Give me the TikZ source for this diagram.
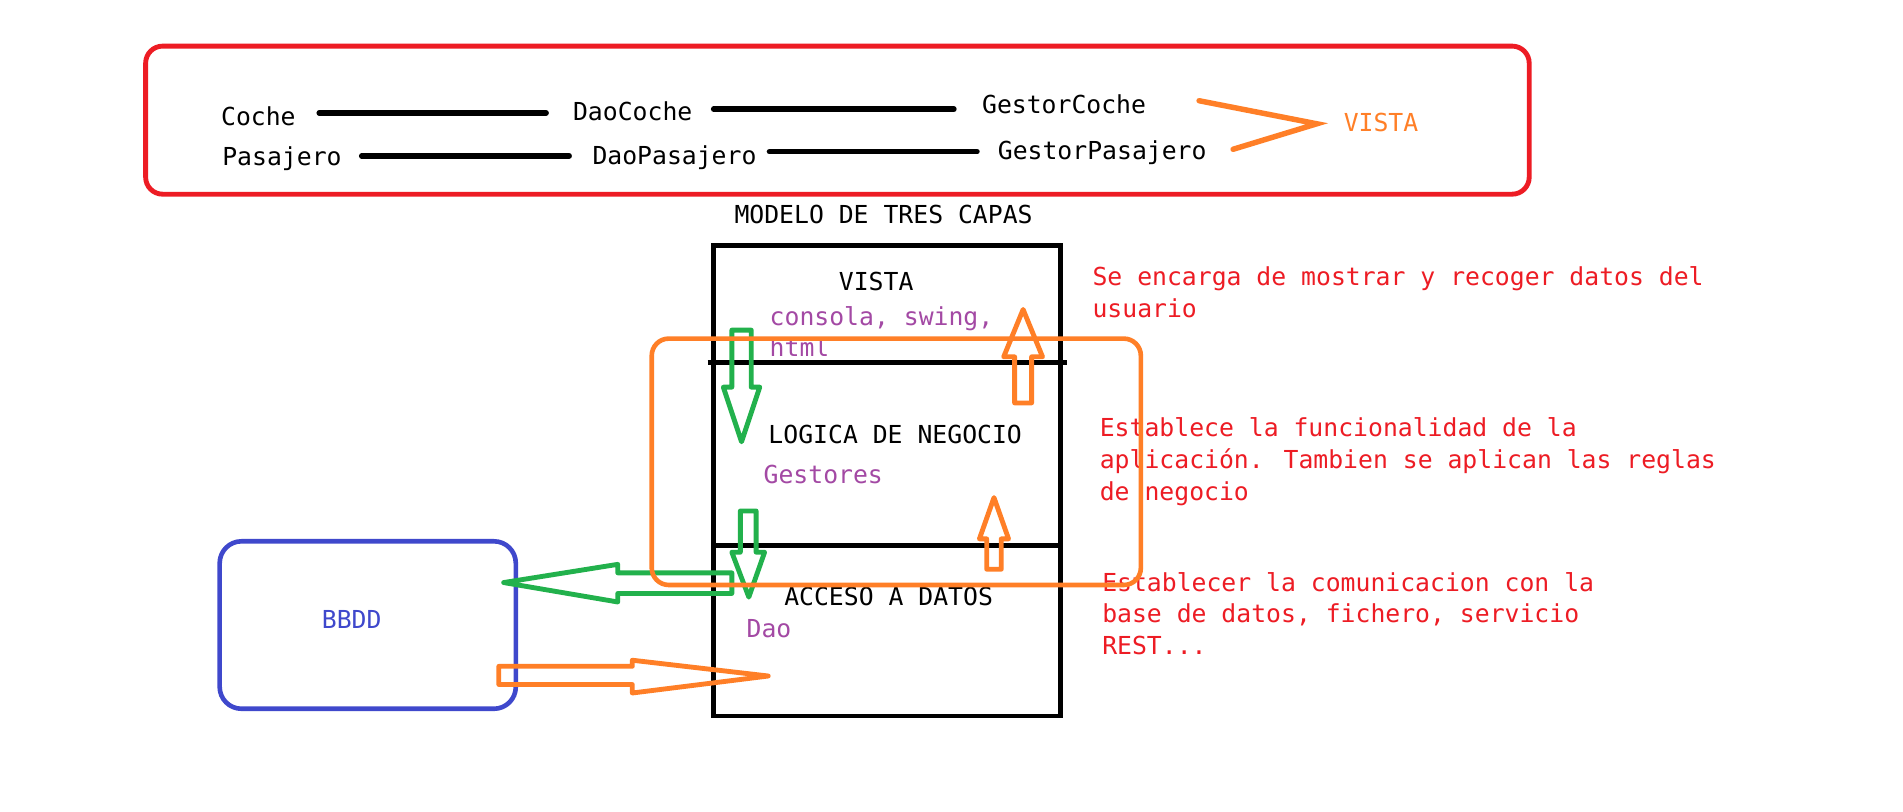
\documentclass[tikz,border=0pt]{standalone}
\usepackage{fontspec}
\newfontfamily\cons{DejaVu Sans Mono}
\definecolor{cred}{RGB}{237,28,36}
\definecolor{corange}{RGB}{255,127,39}
\definecolor{cgreen}{RGB}{34,177,76}
\definecolor{cblue}{RGB}{63,72,204}
\definecolor{cpurple}{RGB}{163,73,164}
\begin{document}
\begin{tikzpicture}[x=1pt,y=-1pt,
  txt/.style={inner sep=0pt, anchor=base west, font=\cons\fontsize{20.4}{26}\selectfont},
  redtxt/.style={txt, text=cred},
  purptxt/.style={txt, text=cpurple},
  link/.style={line width=4.5pt, line cap=round, black},
  greenarrow/.style={draw=cgreen, line width=4pt, line join=round},
  orangearrow/.style={draw=corange, line width=4pt, line join=round},
  framebox/.style={line width=4pt}]
\useasboundingbox (0,0) rectangle (1568,669);
\fill[white] (0,0) rectangle (1568,669);

% top red box
\draw[cred, framebox, rounded corners=14pt] (120,38) rectangle (1260,160);
\node[txt] (coche) at (182,103.5) {Coche};
\node[txt] (daocoche) at (472,99.5) {DaoCoche};
\node[txt] (gcoche) at (809,93.5) {GestorCoche};
\node[txt] (pasajero) at (183,136.5) {Pasajero};
\node[txt] (daopas) at (488,135.5) {DaoPasajero};
\node[txt] (gpas) at (822,131.5) {GestorPasajero};
\node[txt, text=corange] (vistatop) at (1107,108.5) {VISTA};

\coordinate (l1a) at (263,93);   \coordinate (l1b) at (450,93);
\coordinate (l2a) at (588,90);   \coordinate (l2b) at (786,90);
\coordinate (l3a) at (298,128.5);\coordinate (l3b) at (469,128.5);
\coordinate (l4a) at (634,125);  \coordinate (l4b) at (805,125);
\draw[link] (l1a) -- (l1b);
\draw[link] (l2a) -- (l2b);
\draw[link] (l3a) -- (l3b);
\draw[link] (l4a) -- (l4b);

\coordinate (cv1) at (988,83);
\coordinate (cv2) at (1085,102);
\coordinate (cv3) at (1016,123);
\draw[corange, line width=4.5pt, line cap=round, line join=miter] (cv1) -- (cv2) -- (cv3);

% title
\node[txt] (title) at (605,184.5) {MODELO DE TRES CAPAS};

% three-layer box
\draw[black, framebox] (588,202) rectangle (874,590);
\draw[black, framebox] (583,298.5) -- (879,298.5);
\draw[black, framebox] (588,449.5) -- (874,449.5);

\node[txt] (vista) at (691,239.5) {VISTA};
\node[purptxt] (consola) at (634,268.5) {consola, swing,};
\node[purptxt] (html) at (634,294) {html};
\node[txt] (logica) at (633,365.5) {LOGICA DE NEGOCIO};
\node[purptxt] (gestores) at (629,398.5) {Gestores};
\node[txt] (acceso) at (646,498.5) {ACCESO A DATOS};
\node[purptxt] (dao) at (615,525.5) {Dao};

% BBDD
\draw[cblue, line width=3.8pt, rounded corners=18pt] (181,446) rectangle (425,584);
\node[txt, text=cblue] (bbdd) at (265,517.5) {BBDD};

% red descriptions
\node[redtxt] (d1a) at (900,235.5) {Se encarga de mostrar y recoger datos del};
\node[redtxt] (d1b) at (900,261.5) {usuario};
\node[redtxt] (d2a) at (906,360) {Establece la funcionalidad de la};
\node[redtxt] (d2b) at (906,386) {aplicación. Tambien se aplican las reglas};
\node[redtxt] (d2c) at (906,412) {de negocio};
\node[redtxt] (d3a) at (908,487) {Establecer la comunicacion con la};
\node[redtxt] (d3b) at (908,513) {base de datos, fichero, servicio};
\node[redtxt] (d3c) at (908,539) {REST...};

% block arrows
\draw[greenarrow] (603,272) -- (619,272) -- (619,319) -- (626,319) -- (611,364) -- (596,319) -- (603,319) -- cycle;
\draw[orangearrow] (836,332) -- (850,332) -- (850,294) -- (859,294) -- (843,255) -- (827,294) -- (836,294) -- cycle;
\draw[greenarrow] (610,421) -- (623,421) -- (623,455) -- (630,455) -- (617,492) -- (603,455) -- (610,455) -- cycle;
\draw[orangearrow] (813,469) -- (825,469) -- (825,444) -- (831,444) -- (819,410) -- (807,444) -- (813,444) -- cycle;
\draw[greenarrow] (603,472) -- (603,489) -- (509,489) -- (509,496) -- (415,480) -- (509,465) -- (509,472) -- cycle;
\draw[orangearrow] (411,549) -- (521,549) -- (521,544) -- (633,557) -- (521,571) -- (521,564) -- (411,564) -- cycle;

% orange grouping box
\draw[corange, line width=3.8pt, rounded corners=14pt] (537,279) rectangle (940,482);
\end{tikzpicture}
\end{document}
